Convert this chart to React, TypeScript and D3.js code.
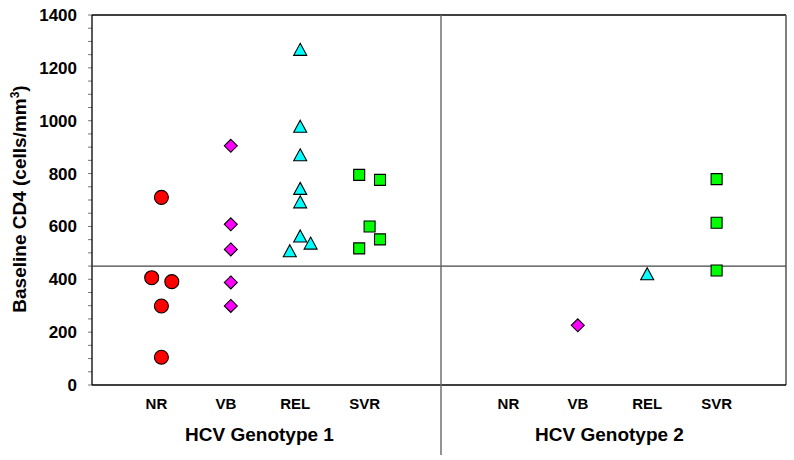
import React from "react";
import * as d3 from "d3";

const categories = ["NR", "VB", "REL", "SVR"];
const groupTitles = ["HCV Genotype 1", "HCV Genotype 2"];
const yTicks = [0, 200, 400, 600, 800, 1000, 1200, 1400];
const threshold = 450;

// Genotype 1 values (cells/mm3) with horizontal jitter in category units
const g1NR = [710, 406, 391, 299, 105];
const g1NRJitter = [0, -0.14, 0.15, 0, 0];
const g1VB = [905, 608, 513, 388, 299];
const g1VBJitter = [0, 0, 0, 0, 0];
const g1REL = [1270, 979, 871, 744, 693, 564, 537, 508];
const g1RELJitter = [0, 0, 0, 0, 0, 0, 0.15, -0.15];
const g1SVR = [795, 776, 600, 551, 517];
const g1SVRJitter = [-0.15, 0.15, 0, 0.15, -0.15];

// Genotype 2 values
const g2NR: number[] = [];
const g2VB = [226];
const g2REL = [421];
const g2SVR = [779, 614, 433];

const colors = ["#ff0000", "#ff00ff", "#00ffff", "#00ff00"];

const W = 794;
const H = 460;
const left = 92;
const right = 786;
const top = 15;
const bottom = 385;

const x = d3.scaleLinear().domain([0, 10]).range([left, right]);
const y = d3.scaleLinear().domain([0, 1400]).range([bottom, top]);

const FONT = "'Liberation Sans', Arial, sans-serif";

function markerPath(kind: number, cx: number, cy: number): string {
  const p = d3.path();
  if (kind === 0) {
    p.arc(cx, cy, 7, 0, Math.PI * 2);
    p.closePath();
  } else if (kind === 1) {
    const r = 6.5;
    p.moveTo(cx, cy - r);
    p.lineTo(cx + r, cy);
    p.lineTo(cx, cy + r);
    p.lineTo(cx - r, cy);
    p.closePath();
  } else if (kind === 2) {
    const hw = 6.5;
    const hh = 6;
    p.moveTo(cx, cy - hh);
    p.lineTo(cx + hw, cy + hh);
    p.lineTo(cx - hw, cy + hh);
    p.closePath();
  } else {
    const s = 5.5;
    p.rect(cx - s, cy - s, 2 * s, 2 * s);
  }
  return p.toString();
}

type Pt = { kind: number; pos: number; v: number };

function buildPoints(): Pt[] {
  const pts: Pt[] = [];
  const g1 = [g1NR, g1VB, g1REL, g1SVR];
  const g1j = [g1NRJitter, g1VBJitter, g1RELJitter, g1SVRJitter];
  const g2 = [g2NR, g2VB, g2REL, g2SVR];
  g1.forEach((vals, ci) => {
    vals.forEach((v, i) => pts.push({ kind: ci, pos: 1 + ci + (g1j[ci][i] || 0), v }));
  });
  g2.forEach((vals, ci) => {
    vals.forEach((v) => pts.push({ kind: ci, pos: 6 + ci, v }));
  });
  return pts;
}

export default function App() {
  const pts = buildPoints();
  const minorTicks = d3.range(0, 1401, 50);
  const labelOffset = [-5, 0];
  const titleOffset = [-6, -3];
  return (
    <svg
      width={W}
      height={H}
      style={{ position: "absolute", left: 0, top: 0, background: "#fff" }}
      fontFamily={FONT}
    >
      <rect x={0} y={0} width={W} height={H} fill="#fff" />
      {/* ticks */}
      {minorTicks.map((t) => (
        <line key={"mt" + t} x1={left - 4} x2={left} y1={y(t)} y2={y(t)} stroke="#777" strokeWidth={1} />
      ))}
      {yTicks.map((t) => (
        <text
          key={"yt" + t}
          x={77}
          y={y(t) + 6}
          textAnchor="end"
          fontSize={17}
          fontWeight="bold"
          fill="#000"
        >
          {t}
        </text>
      ))}
      {/* frame */}
      <line x1={left} x2={right} y1={top} y2={top} stroke="#000" strokeWidth={1.3} />
      <line x1={right} x2={right} y1={top} y2={bottom} stroke="#555" strokeWidth={1.5} />
      <line x1={left} x2={left} y1={top} y2={bottom} stroke="#000" strokeWidth={1.3} />
      <line x1={left} x2={right} y1={bottom} y2={bottom} stroke="#000" strokeWidth={1.3} />
      {/* threshold line */}
      <line x1={left} x2={right} y1={y(threshold)} y2={y(threshold)} stroke="#444" strokeWidth={1.2} />
      {/* divider */}
      <line x1={x(5) + 2} x2={x(5) + 2} y1={top} y2={455} stroke="#666" strokeWidth={1.4} />
      {/* points */}
      {pts.map((p, i) => (
        <path
          key={"p" + i}
          d={markerPath(p.kind, x(p.pos), y(p.v))}
          fill={colors[p.kind]}
          stroke="#000"
          strokeWidth={1.1}
        />
      ))}
      {/* category labels */}
      {groupTitles.map((g, gi) => (
        <g key={"g" + gi}>
          {categories.map((c, ci) => (
            <text
              key={c}
              x={x(1 + gi * 5 + ci) + labelOffset[gi]}
              y={408.5}
              textAnchor="middle"
              fontSize={15}
              fontWeight="bold"
              fill="#000"
            >
              {c}
            </text>
          ))}
          <text
            x={x(2.5 + gi * 5) + titleOffset[gi]}
            y={441}
            textAnchor="middle"
            fontSize={19}
            fontWeight="bold"
            fill="#000"
          >
            {g}
          </text>
        </g>
      ))}
      {/* y axis title */}
      <text
        transform={`translate(26, ${199}) rotate(-90)`}
        textAnchor="middle"
        fontSize={19}
        fontWeight="bold"
        fill="#000"
      >
        Baseline CD4 (cells/mm
        <tspan dy={-7} fontSize={12}>3</tspan>
        <tspan dy={7}>)</tspan>
      </text>
    </svg>
  );
}
